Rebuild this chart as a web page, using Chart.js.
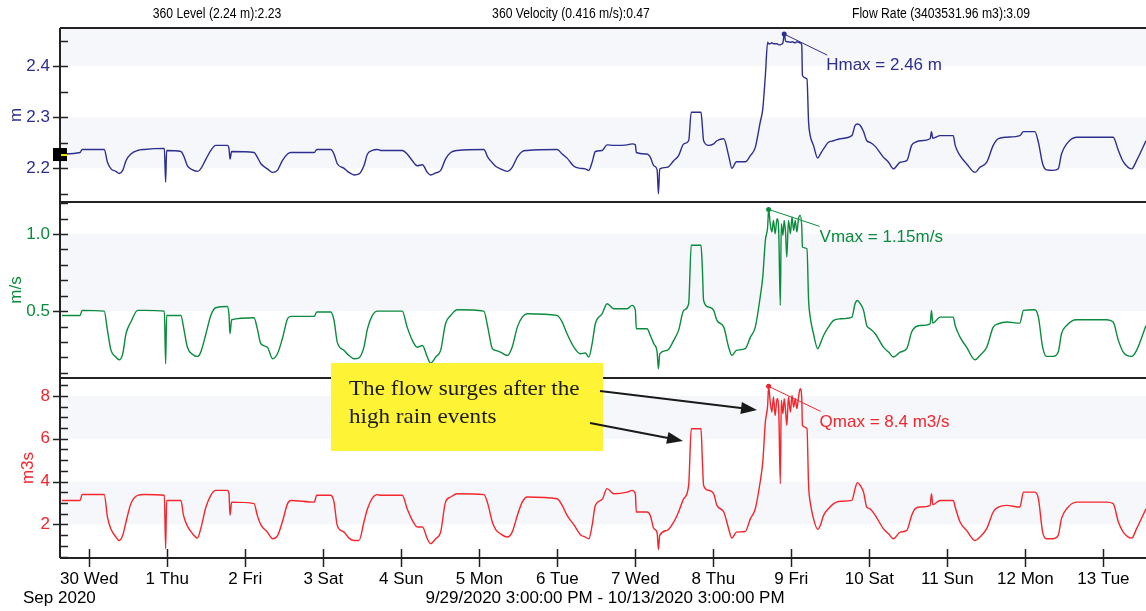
<!DOCTYPE html>
<html>
<head>
<meta charset="utf-8">
<script src="https://cdn.jsdelivr.net/npm/chart.js@4.4.0/dist/chart.umd.min.js"></script>
<style>
  html, body { margin: 0; padding: 0; background: #fff; overflow: hidden; }
  canvas { display: block; }
</style>
</head>
<body>
<canvas id="flowChart" width="1146" height="611"></canvas>
<script>
// hours since 9/29/2020 3:00 PM
const hours = [
  0.6, 6.2, 6.8, 13.6, 14.6, 15.7, 17.2, 18.2, 19.3, 20.3, 21.8, 23.9, 25.9, 32.1, 32.5, 32.8, 37.2, 38.0, 39.2, 40.8,
  42.3, 43.3, 44.9, 46.4, 47.9, 51.5, 52.0, 52.3, 52.8, 59.7, 60.7, 61.8, 63.8, 65.4, 66.9, 68.4, 70.0, 71.0, 78.2, 79.0,
  83.3, 84.3, 85.3, 87.4, 88.9, 90.5, 92.0, 93.5, 94.6, 96.1, 97.6,
  98.7, 105.3, 106.8, 108.4, 109.9, 111.5, 113.0, 114.0, 115.6, 117.1, 118.6, 120.2, 122.2, 130.4, 131.6, 133.0, 134.0, 135.5, 137.6, 139.1,
  140.7, 142.2, 143.7, 152.9, 154.5, 156.0, 158.1, 160.1, 161.6, 162.7, 163.7, 164.7, 166.8, 168.3, 170.4, 174.5, 176.0, 177.0, 177.3, 180.6,
  181.6, 182.7, 183.7, 184.1, 184.5, 186.8, 188.8, 190.3, 191.9, 193.4, 194.2, 197.2, 197.6, 198.0, 199.6, 201.1, 202.1, 204.2, 205.7, 206.7,
  208.1, 210.8, 212.4, 213.9, 215.4,
  216.2, 217.0, 217.7, 218.0, 218.5, 219.0, 219.5, 220.0, 220.6, 221.1, 221.6, 221.9, 222.4, 222.8, 223.2, 223.6, 224.1, 224.7, 225.2, 225.7,
  226.2, 226.7, 227.2, 227.7, 228.2, 228.4, 229.8, 230.3, 230.8, 231.8, 233.1, 233.9, 234.9, 236.4, 238.0, 240.0, 243.6, 244.6, 245.3, 246.2,
  247.2, 248.2, 249.2, 250.8, 253.3, 254.9, 256.4, 258.5, 260.5, 262.0, 263.1, 264.6, 267.7, 268.1, 268.5, 270.8, 274.8, 275.4, 276.9, 278.9,
  281.5, 283.0, 285.1, 287.1, 288.7, 291.2, 295.3, 296.4, 299.9, 301.0, 302.3, 303.5, 305.6, 307.1, 308.1, 309.7, 312.7, 322.0, 324.0, 325.6,
  327.1, 329.7, 331.2, 334.1,
];

const level = [
  2.228, 2.231, 2.237, 2.237, 2.212, 2.199, 2.194, 2.190, 2.196, 2.215, 2.228, 2.235, 2.237, 2.239, 2.173, 2.235, 2.233, 2.225, 2.205, 2.197,
  2.194, 2.199, 2.218, 2.235, 2.245, 2.245, 2.238, 2.218, 2.233, 2.231, 2.222, 2.209, 2.199, 2.192, 2.196, 2.215, 2.228, 2.231, 2.231, 2.237,
  2.237, 2.228, 2.209, 2.200, 2.192, 2.187, 2.189, 2.205, 2.228, 2.235, 2.237,
  2.235, 2.235, 2.228, 2.215, 2.205, 2.207, 2.192, 2.187, 2.191, 2.196, 2.218, 2.231, 2.235, 2.237, 2.222, 2.211, 2.204, 2.199, 2.194, 2.202,
  2.222, 2.233, 2.235, 2.237, 2.228, 2.220, 2.204, 2.200, 2.199, 2.196, 2.212, 2.233, 2.235, 2.246, 2.245, 2.246, 2.248, 2.246, 2.231, 2.228,
  2.222, 2.205, 2.197, 2.150, 2.199, 2.202, 2.215, 2.225, 2.248, 2.254, 2.310, 2.310, 2.284, 2.254, 2.245, 2.248, 2.254, 2.258, 2.225, 2.200,
  2.213, 2.213, 2.225, 2.241, 2.290,
  2.316, 2.382, 2.447, 2.444, 2.444, 2.446, 2.444, 2.444, 2.444, 2.442, 2.442, 2.443, 2.446, 2.463, 2.450, 2.448, 2.448, 2.447, 2.448, 2.447,
  2.446, 2.448, 2.447, 2.446, 2.441, 2.382, 2.375, 2.290, 2.264, 2.245, 2.220, 2.228, 2.238, 2.251, 2.254, 2.258, 2.264, 2.284, 2.287, 2.284,
  2.272, 2.254, 2.251, 2.243, 2.222, 2.212, 2.199, 2.212, 2.215, 2.245, 2.251, 2.254, 2.258, 2.272, 2.259, 2.264, 2.264, 2.245, 2.225, 2.209,
  2.192, 2.202, 2.212, 2.245, 2.258, 2.261, 2.264, 2.272, 2.272, 2.251, 2.209, 2.197, 2.196, 2.199, 2.228, 2.248, 2.261, 2.261, 2.261, 2.235,
  2.213, 2.199, 2.215, 2.254,
];

const velocity = [
  0.472, 0.472, 0.505, 0.500, 0.375, 0.245, 0.202, 0.184, 0.223, 0.353, 0.429, 0.505, 0.505, 0.500, 0.158, 0.472, 0.472, 0.396, 0.266, 0.219,
  0.206, 0.234, 0.353, 0.472, 0.522, 0.530, 0.472, 0.353, 0.444, 0.457, 0.386, 0.288, 0.266, 0.191, 0.223, 0.321, 0.450, 0.466, 0.466, 0.494,
  0.494, 0.440, 0.299, 0.245, 0.212, 0.191, 0.197, 0.266, 0.386, 0.472, 0.500,
  0.500, 0.500, 0.396, 0.310, 0.266, 0.277, 0.202, 0.163, 0.202, 0.245, 0.418, 0.472, 0.509, 0.500, 0.396, 0.256, 0.245, 0.234, 0.212, 0.266,
  0.396, 0.461, 0.483, 0.472, 0.429, 0.353, 0.266, 0.223, 0.228, 0.202, 0.288, 0.418, 0.483, 0.548, 0.515, 0.515, 0.537, 0.505, 0.386, 0.386,
  0.342, 0.288, 0.234, 0.126, 0.223, 0.245, 0.310, 0.375, 0.505, 0.548, 0.927, 0.927, 0.786, 0.569, 0.526, 0.505, 0.440, 0.396, 0.266, 0.212,
  0.245, 0.256, 0.331, 0.396, 0.590,
  0.721, 0.959, 1.046, 1.160, 1.067, 1.013, 1.089, 1.002, 1.100, 1.024, 0.537, 1.067, 0.992, 1.089, 1.013, 0.851, 1.089, 1.002, 1.111, 1.024,
  1.089, 1.013, 1.100, 1.121, 1.046, 0.916, 0.905, 0.569, 0.461, 0.353, 0.256, 0.288, 0.342, 0.396, 0.440, 0.450, 0.461, 0.548, 0.569, 0.548,
  0.505, 0.407, 0.386, 0.353, 0.266, 0.234, 0.202, 0.234, 0.256, 0.364, 0.396, 0.407, 0.418, 0.505, 0.422, 0.461, 0.461, 0.407, 0.331, 0.266,
  0.184, 0.212, 0.266, 0.396, 0.418, 0.429, 0.422, 0.505, 0.509, 0.461, 0.266, 0.206, 0.206, 0.234, 0.353, 0.407, 0.444, 0.444, 0.429, 0.310,
  0.234, 0.206, 0.245, 0.407,
];

const flow = [
  3.12, 3.12, 3.40, 3.40, 2.34, 1.77, 1.41, 1.25, 1.49, 2.11, 2.97, 3.36, 3.40, 3.36, 0.86, 3.12, 3.12, 2.42, 1.92, 1.56,
  1.36, 1.80, 2.81, 3.36, 3.59, 3.59, 3.43, 2.42, 3.04, 2.97, 2.42, 1.98, 1.64, 1.33, 1.46, 2.11, 2.97, 3.12, 3.04, 3.36,
  3.36, 3.04, 1.95, 1.64, 1.36, 1.25, 1.25, 2.11, 2.73, 3.23, 3.39,
  3.36, 3.36, 2.73, 2.19, 1.88, 1.88, 1.33, 1.10, 1.33, 1.64, 3.04, 3.28, 3.43, 3.39, 2.97, 2.11, 1.77, 1.56, 1.41, 1.64,
  2.42, 3.04, 3.28, 3.20, 2.89, 2.42, 1.98, 1.52, 1.41, 1.33, 1.95, 2.89, 3.17, 3.67, 3.43, 3.51, 3.59, 3.43, 2.58, 2.58,
  2.42, 1.80, 1.61, 0.83, 1.49, 1.72, 2.11, 2.58, 3.20, 3.82, 6.47, 6.47, 5.07, 3.82, 3.59, 3.43, 2.89, 2.58, 1.80, 1.36,
  1.64, 1.67, 2.27, 2.73, 3.98,
  4.91, 6.78, 7.56, 8.45, 7.72, 7.25, 7.95, 7.09, 7.87, 7.41, 3.90, 7.80, 7.17, 7.87, 7.33, 6.63, 7.95, 7.25, 8.03, 7.48,
  7.87, 7.41, 7.95, 8.34, 7.87, 6.63, 6.47, 3.82, 3.04, 2.27, 1.77, 1.95, 2.42, 2.73, 2.97, 3.08, 3.12, 3.67, 3.95, 3.82,
  3.51, 2.81, 2.73, 2.42, 1.80, 1.56, 1.33, 1.64, 1.72, 2.42, 2.73, 2.81, 2.89, 3.43, 2.92, 3.12, 3.12, 2.81, 2.11, 1.72,
  1.25, 1.41, 1.80, 2.58, 2.81, 2.89, 2.81, 3.51, 3.51, 3.20, 1.64, 1.33, 1.33, 1.49, 2.27, 2.73, 3.04, 3.04, 2.97, 2.11,
  1.64, 1.36, 1.80, 2.73,
];

// midnight of each day, in hours from the start
const dayTicks = [9, 33, 57, 81, 105, 129, 153, 177, 201, 225, 249, 273, 297, 321];
const dayLabels = ["30 Wed", "1 Thu", "2 Fri", "3 Sat", "4 Sun", "5 Mon", "6 Tue",
  "7 Wed", "8 Thu", "9 Fri", "10 Sat", "11 Sun", "12 Mon", "13 Tue"];
const levelTicks = [2.2, 2.3, 2.4];
const velocityTicks = [0.5, 1.0];
const flowTicks = [2, 4, 6, 8];

const headers = ["360 Level (2.24 m):2.23", "360 Velocity (0.416 m/s):0.47", "Flow Rate (3403531.96 m3):3.09"];

// maximum of each series
const levelPeak = [{ x: 222.8, y: 2.463 }];
const velocityPeak = [{ x: 218.0, y: 1.16 }];
const flowPeak = [{ x: 218.0, y: 8.45 }];

const BLUE = "#2d2f8e";
const GREEN = "#0b8b3d";
const RED = "#f2262c";
const FONT = '17px "Liberation Sans", Arial, sans-serif';

// panel setup: bands, minor step, title
const panels = {
  yL: { color: BLUE, title: "m", titleX: 16, bands: [[2.2, 2.3], [2.4, 2.5]], minor: 0.05, peak: levelPeak, label: "Hmax = 2.46 m", line: [43, 21], text: [42, 31] },
  yV: { color: GREEN, title: "m/s", titleX: 16, bands: [[0.5, 1.0]], minor: 0.1, peak: velocityPeak, label: "Vmax = 1.15m/s", line: [51, 17], text: [51, 28] },
  yQ: { color: RED, title: "m3s", titleX: 28, bands: [[2, 4], [6, 8]], minor: 0.5, peak: flowPeak, label: "Qmax = 8.4 m3/s", line: [52, 25], text: [51, 36] },
};

function series(values) {
  return hours.map((h, i) => ({ x: h, y: values[i] }));
}

function arrow(ctx, x1, y1, x2, y2) {
  const a = Math.atan2(y2 - y1, x2 - x1);
  ctx.beginPath();
  ctx.moveTo(x1, y1);
  ctx.lineTo(x2 - 10 * Math.cos(a), y2 - 10 * Math.sin(a));
  ctx.stroke();
  ctx.beginPath();
  ctx.moveTo(x2, y2);
  ctx.lineTo(x2 - 16 * Math.cos(a) + 6 * Math.sin(a), y2 - 16 * Math.sin(a) - 6 * Math.cos(a));
  ctx.lineTo(x2 - 16 * Math.cos(a) - 6 * Math.sin(a), y2 - 16 * Math.sin(a) + 6 * Math.cos(a));
  ctx.closePath();
  ctx.fill();
}

// text squeezed or stretched horizontally
function fillScaled(ctx, text, x, y, sx) {
  ctx.save();
  ctx.translate(x, y);
  ctx.scale(sx, 1);
  ctx.fillText(text, 0, 0);
  ctx.restore();
}

const decor = {
  id: "decor",
  beforeDatasetsDraw(chart) {
    const { ctx, chartArea, scales } = chart;
    ctx.save();
    ctx.fillStyle = "#f6f7fb";
    for (const id in panels) {
      const s = scales[id];
      panels[id].bands.forEach(([a, b]) => {
        const y1 = Math.max(s.getPixelForValue(b), s.top);
        const y2 = Math.min(s.getPixelForValue(a), s.bottom);
        ctx.fillRect(chartArea.left, y1, chartArea.right - chartArea.left, y2 - y1);
      });
    }
    ctx.restore();
  },
  afterDraw(chart) {
    const { ctx, chartArea, scales } = chart;
    const left = chartArea.left;
    ctx.save();

    // panel frames
    ctx.strokeStyle = "#222";
    ctx.lineWidth = 2;
    ctx.beginPath();
    for (const id in panels) {
      ctx.moveTo(left, scales[id].top);
      ctx.lineTo(chartArea.right, scales[id].top);
    }
    ctx.moveTo(left, chartArea.bottom);
    ctx.lineTo(chartArea.right, chartArea.bottom);
    ctx.moveTo(left, chartArea.top);
    ctx.lineTo(left, chartArea.bottom);
    ctx.stroke();

    // y tick marks: majors cross the axis, minors inside
    ctx.lineWidth = 1.5;
    ctx.beginPath();
    for (const id in panels) {
      const s = scales[id];
      const step = panels[id].minor;
      for (let v = Math.ceil(s.min / step) * step; v <= s.max; v += step) {
        const y = Math.round(s.getPixelForValue(v)) + 0.5;
        const major = s.ticks.some(t => Math.abs(t.value - v) < step / 10);
        ctx.moveTo(major ? left - 7 : left, y);
        ctx.lineTo(left + 8, y);
      }
    }
    // x tick marks
    const xs = scales.x;
    dayTicks.forEach(d => {
      const x = Math.round(xs.getPixelForValue(d)) + 0.5;
      ctx.moveTo(x, chartArea.bottom - 9);
      ctx.lineTo(x, chartArea.bottom + 9);
    });
    ctx.stroke();

    // axis titles
    ctx.font = FONT;
    ctx.textAlign = "center";
    ctx.textBaseline = "middle";
    for (const id in panels) {
      const s = scales[id];
      ctx.save();
      ctx.translate(panels[id].titleX, (s.top + s.bottom) / 2);
      ctx.rotate(-Math.PI / 2);
      ctx.fillStyle = panels[id].color;
      ctx.fillText(panels[id].title, 0, 0);
      ctx.restore();
    }

    // current value marker on the level axis
    const my = scales.yL.getPixelForValue(level[0]);
    ctx.fillStyle = "#000";
    ctx.fillRect(left - 7, my - 6, 14, 13);
    ctx.fillStyle = "#f2e600";
    ctx.fillRect(left + 1, my, 6, 2);

    // max annotations
    ctx.textAlign = "left";
    for (const id in panels) {
      const p = panels[id];
      const px = xs.getPixelForValue(p.peak[0].x);
      const py = scales[id].getPixelForValue(p.peak[0].y);
      ctx.strokeStyle = p.color;
      ctx.lineWidth = 1;
      ctx.beginPath();
      ctx.moveTo(px, py);
      ctx.lineTo(px + p.line[0], py + p.line[1]);
      ctx.stroke();
      ctx.fillStyle = p.color;
      ctx.fillText(p.label, px + p.text[0], py + p.text[1]);
    }

    // header, narrow lettering
    ctx.fillStyle = "#000";
    ctx.textAlign = "center";
    ctx.font = '14px "Liberation Sans", Arial, sans-serif';
    [217, 571, 941].forEach((x, i) => fillScaled(ctx, headers[i], x, 14, 0.87));

    // footer
    ctx.font = FONT;
    ctx.textAlign = "left";
    ctx.fillText("Sep 2020", 23, 598);
    ctx.textAlign = "center";
    ctx.fillText("9/29/2020 3:00:00 PM - 10/13/2020 3:00:00 PM", 605, 598);

    // note box
    ctx.fillStyle = "#fff335";
    ctx.fillRect(331, 363, 272, 88);
    ctx.fillStyle = "#1a1a1a";
    ctx.textAlign = "left";
    ctx.font = '22px "Liberation Serif", "Times New Roman", serif';
    fillScaled(ctx, "The flow surges after the", 349, 389, 1.05);
    fillScaled(ctx, "high rain events", 349, 417, 1.05);
    ctx.strokeStyle = "#1a1a1a";
    ctx.lineWidth = 2;
    arrow(ctx, 600, 391, 757, 410);
    arrow(ctx, 590, 423, 683, 441);

    ctx.restore();
  },
};

function yScale(weight, min, max, ticks, color, digits) {
  return {
    type: "linear",
    position: "left",
    stack: "panels",
    stackWeight: weight,
    min: min,
    max: max,
    afterBuildTicks: s => { s.ticks = ticks.map(v => ({ value: v })); },
    afterFit: s => { s.width = 60; },
    grid: { display: false, drawTicks: false },
    border: { display: false },
    ticks: {
      color: color,
      padding: 10,
      font: { size: 17 },
      callback: v => (digits ? v.toFixed(digits) : v),
    },
  };
}

Chart.defaults.font.family = '"Liberation Sans", Arial, sans-serif';

const ctx = document.getElementById("flowChart").getContext("2d");
const line = { borderWidth: 1.4, pointRadius: 0, cubicInterpolationMode: "monotone" };
const dot = { showLine: false, pointRadius: 2.5, pointBorderWidth: 0, clip: false };
const flowChart = new Chart(ctx, {
  type: "line",
  data: {
    datasets: [
      { ...line, data: series(level), yAxisID: "yL", borderColor: BLUE },
      { ...line, data: series(velocity), yAxisID: "yV", borderColor: GREEN },
      { ...line, data: series(flow), yAxisID: "yQ", borderColor: RED },
      { ...dot, data: levelPeak, yAxisID: "yL", pointBackgroundColor: BLUE },
      { ...dot, data: velocityPeak, yAxisID: "yV", pointBackgroundColor: GREEN },
      { ...dot, data: flowPeak, yAxisID: "yQ", pointBackgroundColor: RED },
    ],
  },
  options: {
    responsive: false,
    animation: false,
    devicePixelRatio: 1,
    layout: { autoPadding: false, padding: { top: 28, left: 0, right: 0, bottom: 0 } },
    plugins: { legend: { display: false }, tooltip: { enabled: false } },
    scales: {
      x: {
        type: "linear",
        min: 0,
        max: 334.1,
        afterBuildTicks: s => { s.ticks = dayTicks.map(v => ({ value: v })); },
        afterFit: s => { s.height = 53; s.paddingRight = 0; s.paddingLeft = 0; },
        grid: { display: false, drawTicks: false },
        border: { display: false },
        ticks: {
          color: "#000",
          padding: 11,
          maxRotation: 0,
          autoSkip: false,
          font: { size: 17 },
          callback: v => dayLabels[dayTicks.indexOf(v)],
        },
      },
      yQ: yScale(180, 0.43, 8.84, flowTicks, RED, 0),
      yV: yScale(176, 0.066, 1.208, velocityTicks, GREEN, 1),
      yL: yScale(174, 2.134, 2.475, levelTicks, BLUE, 1),
    },
  },
  plugins: [decor],
});
</script>
</body>
</html>
